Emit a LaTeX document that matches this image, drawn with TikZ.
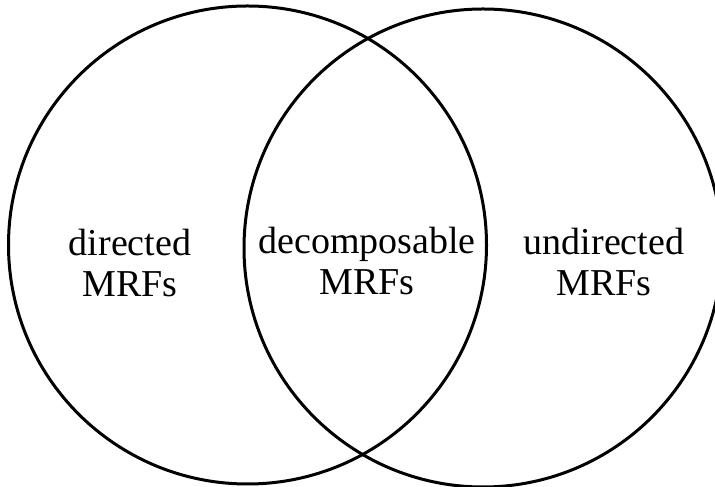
\documentclass[tikz,border=0pt]{standalone}
\usepackage{fontspec}
\setmainfont{Liberation Serif}
\usepackage{tikz}
\usetikzlibrary{calc}

\begin{document}
\begin{tikzpicture}[x=1pt, y=1pt]
            \useasboundingbox (0,0) rectangle (715,487);
            \clip (0,0) rectangle (715,487);
            \coordinate (L) at (247.5,242);
            \coordinate (R) at (483,239);
            \draw[line width=3pt] (L) circle [radius=239];
            \draw[line width=3pt] (R) circle [radius=239];
            \node[align=center, font=\fontsize{38}{41}\selectfont] (dir) at (130,224) {directed\\MRFs};
            \node[align=center, font=\fontsize{38}{41}\selectfont] (dec) at (367,226) {decomposable\\MRFs};
            \node[align=center, font=\fontsize{38}{41}\selectfont] (undir) at (604,225) {undirected\\MRFs};
        \end{tikzpicture}
\end{document}
